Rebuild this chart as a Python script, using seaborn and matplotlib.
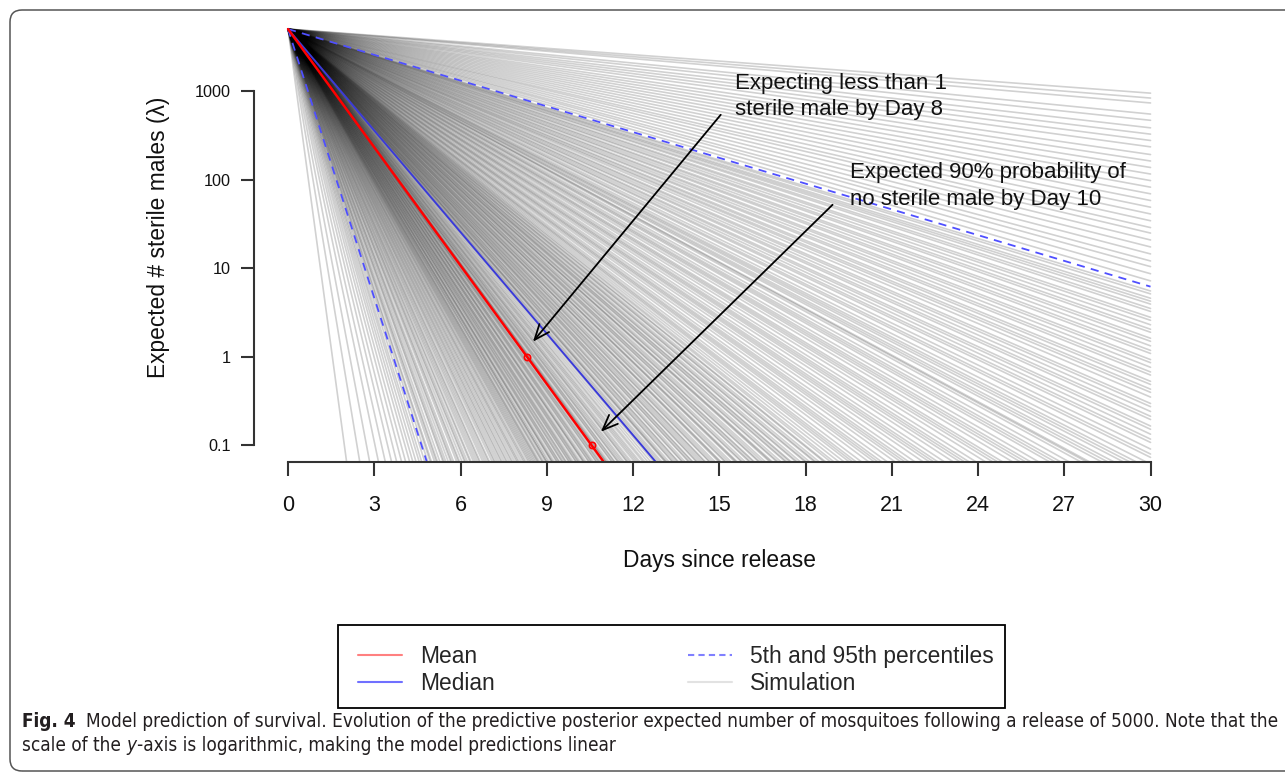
import matplotlib
matplotlib.use("Agg")
import numpy as np
import pandas as pd
import seaborn as sns
import matplotlib.pyplot as plt
from matplotlib.lines import Line2D
from matplotlib.patches import FancyBboxPatch, Rectangle
from matplotlib.transforms import IdentityTransform
from matplotlib.ticker import NullLocator
from matplotlib import font_manager
from matplotlib.font_manager import FontProperties

# ---- data ----
release = 5000
days = [0, 30]

# daily survival probability of each posterior draw (one line each)
sim_survival = [
    0.004, 0.011, 0.019, 0.028, 0.036, 0.044, 0.051, 0.058, 0.064, 0.070,
    0.075, 0.080, 0.085, 0.089, 0.094,
    0.099, 0.103, 0.105, 0.110, 0.113, 0.115, 0.119, 0.124, 0.126, 0.129,
    0.133, 0.137, 0.139, 0.142, 0.147, 0.150, 0.152, 0.156, 0.160, 0.162,
    0.165, 0.169, 0.171, 0.175, 0.178, 0.181, 0.184, 0.186, 0.190, 0.193,
    0.196, 0.199, 0.201, 0.205, 0.208, 0.210, 0.213, 0.216, 0.219, 0.221,
    0.224, 0.227, 0.229, 0.232, 0.235, 0.237, 0.240, 0.243, 0.245, 0.247,
    0.250, 0.253, 0.255, 0.257, 0.260, 0.262, 0.264, 0.266, 0.268, 0.270,
    0.272, 0.274, 0.275, 0.277, 0.280, 0.281, 0.283, 0.286, 0.286, 0.288,
    0.290, 0.293, 0.294, 0.295, 0.297, 0.300, 0.301, 0.303, 0.304, 0.307,
    0.308, 0.310, 0.312, 0.313, 0.316, 0.317, 0.319, 0.320, 0.322, 0.325,
    0.326, 0.328, 0.329, 0.331, 0.334, 0.335, 0.336, 0.338, 0.341, 0.342,
    0.344, 0.345, 0.347, 0.350, 0.351, 0.353, 0.354, 0.356, 0.358, 0.361,
    0.362, 0.363, 0.365, 0.368, 0.369, 0.371, 0.372, 0.375, 0.376, 0.378,
    0.380, 0.382, 0.385, 0.386, 0.388, 0.390, 0.393, 0.395, 0.397, 0.399,
    0.402, 0.404, 0.407, 0.410, 0.413,
    0.417, 0.419, 0.421, 0.424, 0.425, 0.426, 0.428, 0.431, 0.432, 0.434,
    0.436, 0.437, 0.440, 0.441, 0.443, 0.446, 0.447, 0.449, 0.450, 0.453,
    0.454, 0.456, 0.458, 0.460, 0.461, 0.464, 0.465, 0.467, 0.469, 0.472,
    0.473, 0.474, 0.477, 0.478, 0.480, 0.482, 0.485, 0.486, 0.487, 0.490,
    0.491, 0.493, 0.496, 0.497, 0.499, 0.500, 0.503, 0.504, 0.506, 0.508,
    0.511, 0.512, 0.513, 0.516, 0.517, 0.519, 0.522, 0.523, 0.525, 0.526,
    0.529, 0.530, 0.532, 0.535, 0.536, 0.538, 0.541, 0.542, 0.544, 0.547,
    0.548, 0.551, 0.553, 0.556, 0.559,
    0.562, 0.564, 0.566, 0.569, 0.573, 0.576, 0.578, 0.580, 0.583, 0.587,
    0.590, 0.592, 0.594, 0.597, 0.601, 0.604, 0.606, 0.608, 0.611, 0.615,
    0.618, 0.620, 0.622, 0.625, 0.629, 0.632, 0.634, 0.636, 0.640, 0.643,
    0.645, 0.647, 0.650, 0.654, 0.656, 0.658, 0.661, 0.665, 0.667, 0.668,
    0.672, 0.674, 0.676, 0.679, 0.681, 0.683, 0.686,
    0.690, 0.692, 0.695, 0.699, 0.701, 0.704, 0.707, 0.709, 0.713, 0.715,
    0.718, 0.721, 0.723, 0.727, 0.730, 0.732, 0.735, 0.737, 0.741, 0.743,
    0.746, 0.749, 0.751, 0.755, 0.757, 0.760, 0.763, 0.765, 0.769, 0.771,
    0.774, 0.777, 0.779, 0.783, 0.785, 0.788, 0.790, 0.792, 0.795, 0.797,
    0.804, 0.809, 0.814, 0.818, 0.823, 0.828, 0.833, 0.838, 0.842, 0.847,
    0.852, 0.857, 0.862, 0.867, 0.872, 0.877, 0.882, 0.887, 0.892, 0.897,
    0.903, 0.908, 0.913, 0.918, 0.924, 0.929, 0.938, 0.942, 0.946,
]
mean_survival = 0.359
median_survival = 0.415
pct_survival = [0.0973, 0.800]      # 5th and 95th percentiles
mean_marks = [1, 0.1]               # thresholds marked on the mean curve

x_ticks = [0, 3, 6, 9, 12, 15, 18, 21, 24, 27, 30]
y_ticks = [0.1, 1, 10, 100, 1000]
y_tick_labels = ["0.1", "1", "10", "100", "1000"]

legend_labels = ["Mean", "Median", "5th and 95th percentiles", "Simulation"]
caption_1 = ("Model prediction of survival. Evolution of the predictive posterior expected "
             "number of mosquitoes following a release of 5000. Note that the")
caption_2a = "scale of the"
caption_2b = "-axis is logarithmic, making the model predictions linear"


def curve(p, name):
    return pd.DataFrame({"day": days, "value": [release * p ** d for d in days], "id": name})


sims = pd.concat([curve(p, i) for i, p in enumerate(sim_survival)], ignore_index=True)
pcts = pd.concat([curve(p, i) for i, p in enumerate(pct_survival)], ignore_index=True)
mean_df = curve(mean_survival, "mean")
median_df = curve(median_survival, "median")
mark_days = [np.log(release / v) / -np.log(mean_survival) for v in mean_marks]

# ---- style ----
sns.set_style("white")
plt.rcParams["font.family"] = ["Liberation Sans", "DejaVu Sans"]
axis_col = "#333333"


def weight_num(w):
    if isinstance(w, int):
        return w
    return {"bold": 700, "semibold": 600, "demibold": 600, "heavy": 800, "black": 900}.get(str(w).lower(), 400)


def narrow_font(bold=False, italic=False):
    cands = [f for f in font_manager.fontManager.ttflist
             if ("Narrow" in f.name or "Condensed" in f.name or f.stretch in ("condensed", "semi-condensed"))
             and (weight_num(f.weight) >= 600) == bold
             and (f.style in ("italic", "oblique")) == italic]
    cands.sort(key=lambda f: (0 if "Liberation" in f.name else 1 if "DejaVu" in f.name else 2, f.name))
    if cands:
        return FontProperties(fname=cands[0].fname)
    return FontProperties(family="Liberation Sans", weight="bold" if bold else "normal",
                          style="italic" if italic else "normal")


cap_reg, cap_bold, cap_it = narrow_font(), narrow_font(bold=True), narrow_font(italic=True)

fig = plt.figure(figsize=(12.85, 7.76), dpi=100)
ax = fig.add_axes([0.1973, 0.4046, 0.7249, 0.5794])
ax.set_yscale("log")

sns.lineplot(data=sims, x="day", y="value", units="id", estimator=None,
             color="black", alpha=0.18, lw=1.2, ax=ax, legend=False)
sns.lineplot(data=pcts, x="day", y="value", units="id", estimator=None,
             color="#4f4fff", lw=1.3, linestyle=(0, (4.5, 3.5)), ax=ax, legend=False)
sns.lineplot(data=median_df, x="day", y="value", color="#3a3ad8", lw=1.4, ax=ax, legend=False)
sns.lineplot(data=mean_df, x="day", y="value", color="#ff0000", lw=1.8, ax=ax, legend=False)
ax.plot(mark_days, mean_marks, "o", mfc="none", mec="#ff0000", ms=4.5, mew=1.2)

ax.set_xlim(-1.2, 31.2)
ax.set_ylim(10 ** -1.188, 10 ** 3.887)

# annotations
arrow = dict(arrowstyle="->,head_length=1.1,head_width=0.45", color="black", lw=1.3,
             shrinkA=0, shrinkB=0)
ax.annotate("", xy=(8.52, 1.48), xytext=(15.05, 539), arrowprops=arrow)
ax.annotate("", xy=(10.88, 0.1425), xytext=(18.94, 52), arrowprops=arrow)
ax.text(15.54, 871, "Expecting less than 1\nsterile male by Day 8", fontsize=16,
        ha="left", va="center", color="#111111", linespacing=1.35)
ax.text(19.53, 85, "Expected 90% probability of\nno sterile male by Day 10", fontsize=16,
        ha="left", va="center", color="#111111", linespacing=1.35)

# axes in base-R look
for s in ["top", "right"]:
    ax.spines[s].set_visible(False)
ax.spines["left"].set_bounds(0.1, 1000)
ax.spines["bottom"].set_bounds(0, 30)
for s in ["left", "bottom"]:
    ax.spines[s].set_linewidth(1.5)
    ax.spines[s].set_color(axis_col)
ax.set_xticks(x_ticks)
ax.set_xticklabels([str(t) for t in x_ticks])
ax.set_yticks(y_ticks)
ax.set_yticklabels(y_tick_labels)
ax.yaxis.set_minor_locator(NullLocator())
ax.tick_params(axis="x", bottom=True, direction="out", labelsize=15.5, length=10, width=1.5,
               pad=14, color=axis_col, labelcolor="#111111")
ax.tick_params(axis="y", left=True, direction="out", labelsize=11.7, length=9.5, width=1.5,
               pad=7, color=axis_col, labelcolor="#111111")
ax.set_xlabel("Days since release", fontsize=16.4, color="#111111")
ax.set_ylabel("Expected # sterile males (λ)", fontsize=16.4, color="#111111")
ax.xaxis.set_label_coords(0.5, -0.1935)
ax.yaxis.set_label_coords(-0.0896, 0.5)
ax.grid(False)

# legend
handles = [
    Line2D([], [], color="#ff8080", lw=1.5),
    Line2D([], [], color="#7070ff", lw=1.5),
    Line2D([], [], color="#8080ff", lw=1.5, linestyle=(0, (3, 2))),
    Line2D([], [], color="#e2e2e2", lw=1.5),
]
fig.legend(handles, legend_labels, ncol=2, loc="upper left", bbox_to_anchor=(358 / 1285, 1 - 645 / 776),
           frameon=False, fontsize=16.4, handlelength=1.93, handletextpad=0.79,
           columnspacing=8.47, borderpad=0, borderaxespad=0, labelspacing=0.19)
fig.patches.append(Rectangle((338, 776 - 708), 667, 83, fill=False, lw=1.3, ec="black",
                             transform=IdentityTransform(), figure=fig))

# outer panel border
fig.patches.append(FancyBboxPatch((10, 5), 1300, 761, boxstyle="round,pad=0,rounding_size=12",
                                  fill=False, lw=1.1, ec="#555555",
                                  transform=IdentityTransform(), figure=fig))

# caption
renderer = fig.canvas.get_renderer()


def width_of(s, fp):
    t = fig.text(0, 0, s, transform=IdentityTransform(), fontproperties=fp)
    w = t.get_window_extent(renderer).width
    t.remove()
    return w


def caption(size):
    fps = [fp.copy() for fp in (cap_reg, cap_bold, cap_it)]
    for fp in fps:
        fp.set_size(size)
    reg, bold, it = fps
    sp = width_of("x x", reg) - width_of("xx", reg)
    kw = dict(color="#231f20", transform=IdentityTransform())
    out = []
    y1, y2 = 776 - 727, 776 - 751
    t = fig.text(22, y1, "Fig. 4", fontproperties=bold, **kw)
    out.append(t)
    x = t.get_window_extent(renderer).x1 + 2 * sp
    t = fig.text(x, y1, caption_1, fontproperties=reg, **kw)
    out.append(t)
    end1 = t.get_window_extent(renderer).x1
    t = fig.text(22, y2, caption_2a, fontproperties=reg, **kw)
    out.append(t)
    x = t.get_window_extent(renderer).x1 + sp
    t = fig.text(x, y2, "y", fontproperties=it, **kw)
    out.append(t)
    x = t.get_window_extent(renderer).x1 + 1
    out.append(fig.text(x, y2, caption_2b, fontproperties=reg, **kw))
    return out, end1


texts, end1 = caption(13)
size = 13 * (1278 - 22) / (end1 - 22)
for t in texts:
    t.remove()
caption(size)

fig.savefig("out.png", dpi=100, facecolor="white")
